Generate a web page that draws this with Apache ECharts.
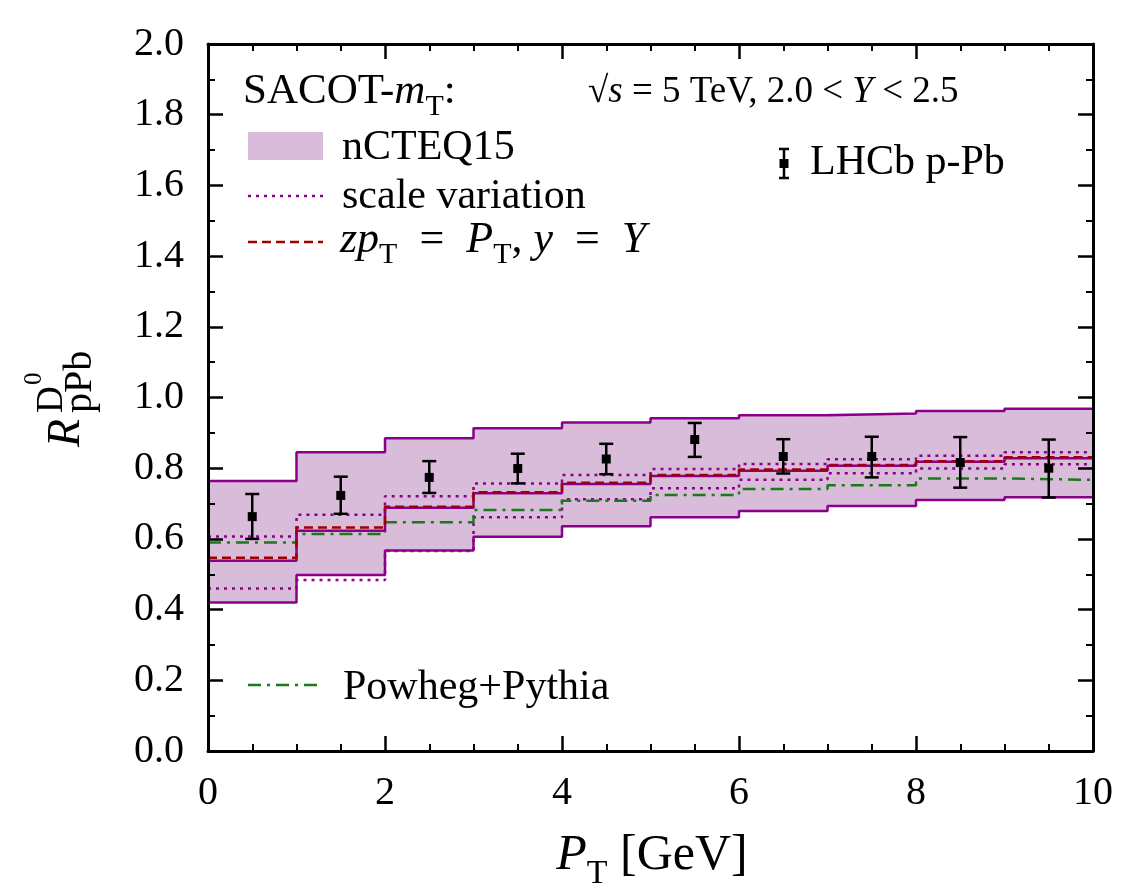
<!DOCTYPE html>
<html>
<head>
<meta charset="utf-8">
<script src="https://cdn.jsdelivr.net/npm/echarts@6/dist/echarts.min.js"></script>
<style>
  html, body { margin: 0; padding: 0; background: #fff; }
  #chart { width: 1127px; height: 891px; }
</style>
</head>
<body>
<div id="chart"></div>
<script>
// bin edges in P_T [GeV]
const edges = [0, 1, 2, 3, 4, 5, 6, 7, 8, 9, 10]
// nCTEQ15 band (per bin)
const bandUpper = [0.764, 0.845, 0.885, 0.913, 0.929, 0.941, 0.950, 0.955, 0.962, 0.968]
const bandLower = [0.420, 0.498, 0.567, 0.606, 0.636, 0.661, 0.679, 0.693, 0.710, 0.718]
const central = [0.538, 0.623, 0.688, 0.729, 0.755, 0.778, 0.793, 0.807, 0.818, 0.828]
// zpT = PT, y = Y
const zpt = [0.547, 0.632, 0.691, 0.732, 0.759, 0.781, 0.796, 0.809, 0.820, 0.831]
// scale variation
const scaleUpper = [0.607, 0.668, 0.721, 0.757, 0.781, 0.798, 0.812, 0.825, 0.835, 0.845]
const scaleLower = [0.460, 0.484, 0.566, 0.661, 0.712, 0.743, 0.767, 0.786, 0.799, 0.811]
// Powheg+Pythia
const powheg = [0.590, 0.614, 0.647, 0.682, 0.708, 0.724, 0.741, 0.752, 0.771, 0.767]
// LHCb p-Pb data
const lhcbX = [0.5, 1.5, 2.5, 3.5, 4.5, 5.5, 6.5, 7.5, 8.5, 9.5]
const lhcbY = [0.663, 0.723, 0.774, 0.799, 0.826, 0.881, 0.833, 0.833, 0.816, 0.800]
const lhcbLo = [0.600, 0.671, 0.730, 0.757, 0.783, 0.832, 0.785, 0.774, 0.745, 0.717]
const lhcbHi = [0.727, 0.776, 0.820, 0.841, 0.869, 0.928, 0.882, 0.889, 0.888, 0.881]

const FONT = '"Liberation Serif", "DejaVu Serif", serif'
const PURPLE = '#8b008b'
const RED = '#a00000'
const GREEN = '#1a7a1a'
const FILL = '#d9bcd9'

// histogram style: repeat the last bin value at the right edge
const stepData = arr => edges.map((e, i) => [e, arr[Math.min(i, arr.length - 1)]])

const stepLine = (name, arr, color, type, width) => ({
    name,
    type: 'line',
    step: 'end',
    data: stepData(arr),
    symbol: 'none',
    silent: true,
    lineStyle: { color, type, width }
})

const axisCommon = {
    type: 'value',
    axisLine: { onZero: false, lineStyle: { color: '#000', width: 3 } },
    axisTick: { inside: true, length: 15, lineStyle: { color: '#000', width: 2.5 } },
    minorTick: { show: true, length: 7, lineStyle: { color: '#000', width: 2 } },
    splitLine: { show: false },
    minorSplitLine: { show: false },
    z: 10
}

const labelStyle = { color: '#000', fontSize: 40, fontFamily: FONT }

const chart = echarts.init(document.getElementById('chart'))

const option = {
    animation: false,
    backgroundColor: '#fff',
    grid: { left: 208, right: 34, top: 44, bottom: 140 },
    xAxis: [
        {
            ...axisCommon, position: 'bottom', min: 0, max: 10, interval: 2,
            minorTick: { ...axisCommon.minorTick, splitNumber: 4 },
            axisLabel: { ...labelStyle, margin: 22 }
        },
        {
            ...axisCommon, position: 'top', min: 0, max: 10, interval: 2,
            minorTick: { ...axisCommon.minorTick, splitNumber: 4 },
            axisLabel: { show: false }
        }
    ],
    yAxis: [
        {
            ...axisCommon, position: 'left', min: 0, max: 2, interval: 0.2,
            minorTick: { ...axisCommon.minorTick, splitNumber: 2 },
            axisLabel: { ...labelStyle, margin: 24, formatter: v => v.toFixed(1) }
        },
        {
            ...axisCommon, position: 'right', min: 0, max: 2, interval: 0.2,
            minorTick: { ...axisCommon.minorTick, splitNumber: 2 },
            axisLabel: { show: false }
        }
    ],
    series: [
        {
            // nCTEQ15 uncertainty band, one box per bin
            name: 'nCTEQ15',
            type: 'custom',
            silent: true,
            data: bandLower.map((lo, i) => [edges[i], edges[i + 1], lo, bandUpper[i]]),
            encode: { x: [0, 1], y: [2, 3] },
            renderItem: (params, api) => {
                const a = api.coord([api.value(0), api.value(3)])
                const b = api.coord([api.value(1), api.value(2)])
                return {
                    type: 'rect',
                    shape: { x: a[0], y: a[1], width: b[0] - a[0] + 0.6, height: b[1] - a[1] },
                    style: { fill: FILL }
                }
            },
            z: 1
        },
        stepLine('scaleUpper', scaleUpper, PURPLE, [3, 5], 2.5),
        stepLine('scaleLower', scaleLower, PURPLE, [3, 5], 2.5),
        stepLine('powheg', powheg, GREEN, [13, 6, 3, 6], 2.5),
        stepLine('central', central, PURPLE, 'solid', 2.5),
        stepLine('zpt', zpt, RED, [9, 5], 2.5),
        stepLine('bandUpper', bandUpper, PURPLE, 'solid', 2.5),
        stepLine('bandLower', bandLower, PURPLE, 'solid', 2.5),
        {
            name: 'LHCb p-Pb',
            type: 'custom',
            silent: true,
            data: lhcbX.map((x, i) => [x, lhcbY[i], lhcbLo[i], lhcbHi[i]]),
            encode: { x: 0, y: [1, 2, 3] },
            renderItem: (params, api) => {
                const p = api.coord([api.value(0), api.value(1)])
                const lo = api.coord([api.value(0), api.value(2)])
                const hi = api.coord([api.value(0), api.value(3)])
                const st = { stroke: '#000', lineWidth: 2.5 }
                return {
                    type: 'group',
                    children: [
                        { type: 'line', shape: { x1: p[0], y1: lo[1], x2: p[0], y2: hi[1] }, style: st },
                        { type: 'line', shape: { x1: p[0] - 7, y1: lo[1], x2: p[0] + 7, y2: lo[1] }, style: st },
                        { type: 'line', shape: { x1: p[0] - 7, y1: hi[1], x2: p[0] + 7, y2: hi[1] }, style: st },
                        { type: 'rect', shape: { x: p[0] - 4.5, y: p[1] - 4.5, width: 9, height: 9 }, style: { fill: '#000' } }
                    ]
                }
            },
            z: 5
        }
    ],
    graphic: [
        // y axis title  R^{D0}_{pPb}
        {
            type: 'group', x: 80, y: 447, rotation: Math.PI / 2, silent: true, z: 100,
            children: [
                { type: 'text', x: 0, y: 10, style: { text: 'R', font: 'italic 46px ' + FONT, fill: '#000', verticalAlign: 'bottom' } },
                { type: 'text', x: 34, y: -9, style: { text: 'D', font: '37px ' + FONT, fill: '#000', verticalAlign: 'bottom' } },
                { type: 'text', x: 62, y: -33, style: { text: '0', font: '25px ' + FONT, fill: '#000', verticalAlign: 'bottom' } },
                { type: 'text', x: 34, y: 20, style: { text: 'pPb', font: '40px ' + FONT, fill: '#000', verticalAlign: 'bottom' } }
            ]
        },
        // x axis title
        {
            type: 'text', x: 652, y: 856, silent: true, z: 100,
            style: {
                text: '{i|P}{s|T}{n| [GeV]}',
                align: 'center', verticalAlign: 'middle', fill: '#000',
                rich: {
                    i: { fontFamily: FONT, fontStyle: 'italic', fontSize: 50, lineHeight: 70 },
                    n: { fontFamily: FONT, fontSize: 50, lineHeight: 70 },
                    s: { fontFamily: FONT, fontSize: 34, lineHeight: 62, verticalAlign: 'bottom' }
                }
            }
        },
        // legend: header
        {
            type: 'text', x: 243, y: 92, silent: true, z: 100,
            style: {
                text: '{n|SACOT-}{i|m}{s|T}{n|:}',
                verticalAlign: 'middle', fill: '#000',
                rich: {
                    n: { fontFamily: FONT, fontSize: 43, lineHeight: 60 },
                    i: { fontFamily: FONT, fontStyle: 'italic', fontSize: 43, lineHeight: 60 },
                    s: { fontFamily: FONT, fontSize: 30, lineHeight: 44, verticalAlign: 'bottom' }
                }
            }
        },
        { type: 'rect', shape: { x: 248, y: 132, width: 75, height: 28 }, style: { fill: FILL }, silent: true, z: 100 },
        { type: 'text', x: 342, y: 148, silent: true, z: 100, style: { text: 'nCTEQ15', font: '42px ' + FONT, fill: '#000', verticalAlign: 'middle' } },
        { type: 'line', shape: { x1: 248, y1: 196, x2: 323, y2: 196 }, style: { stroke: PURPLE, lineWidth: 2.5, lineDash: [3, 5] }, silent: true, z: 100 },
        { type: 'text', x: 342, y: 197, silent: true, z: 100, style: { text: 'scale variation', font: '42px ' + FONT, fill: '#000', verticalAlign: 'middle' } },
        { type: 'line', shape: { x1: 248, y1: 242, x2: 323, y2: 242 }, style: { stroke: RED, lineWidth: 2.5, lineDash: [9, 5] }, silent: true, z: 100 },
        {
            type: 'text', x: 340, y: 240, silent: true, z: 100,
            style: {
                text: '{i|zp}{s|T}{n|  =  }{i|P}{s|T}{n|, }{i|y}{n|  =  }{i|Y}',
                verticalAlign: 'middle', fill: '#000',
                rich: {
                    n: { fontFamily: FONT, fontSize: 44, lineHeight: 60 },
                    i: { fontFamily: FONT, fontStyle: 'italic', fontSize: 44, lineHeight: 60 },
                    s: { fontFamily: FONT, fontSize: 30, lineHeight: 44, verticalAlign: 'bottom' }
                }
            }
        },
        {
            type: 'text', x: 588, y: 92, silent: true, z: 100,
            style: {
                text: '{n|√}{i|s}{n| = 5 TeV, 2.0 < }{i|Y}{n| < 2.5}',
                verticalAlign: 'middle', fill: '#000',
                rich: {
                    n: { fontFamily: FONT, fontSize: 37, lineHeight: 46 },
                    i: { fontFamily: FONT, fontStyle: 'italic', fontSize: 37, lineHeight: 46 }
                }
            }
        },
        // LHCb legend icon
        { type: 'line', shape: { x1: 784, y1: 149, x2: 784, y2: 178 }, style: { stroke: '#000', lineWidth: 2.5 }, silent: true, z: 100 },
        { type: 'line', shape: { x1: 779, y1: 149, x2: 789, y2: 149 }, style: { stroke: '#000', lineWidth: 2.5 }, silent: true, z: 100 },
        { type: 'line', shape: { x1: 779, y1: 178, x2: 789, y2: 178 }, style: { stroke: '#000', lineWidth: 2.5 }, silent: true, z: 100 },
        { type: 'rect', shape: { x: 779.5, y: 159, width: 9, height: 9 }, style: { fill: '#000' }, silent: true, z: 100 },
        { type: 'text', x: 810, y: 163, silent: true, z: 100, style: { text: 'LHCb p-Pb', font: '42px ' + FONT, fill: '#000', verticalAlign: 'middle' } },
        // Powheg legend
        { type: 'line', shape: { x1: 248, y1: 685, x2: 323, y2: 685 }, style: { stroke: GREEN, lineWidth: 2.5, lineDash: [13, 6, 3, 6] }, silent: true, z: 100 },
        { type: 'text', x: 343, y: 688, silent: true, z: 100, style: { text: 'Powheg+Pythia', font: '42px ' + FONT, fill: '#000', verticalAlign: 'middle' } }
    ]
}

chart.setOption(option)
window.addEventListener('resize', function () {
    chart.resize()
})
</script>
</body>
</html>
